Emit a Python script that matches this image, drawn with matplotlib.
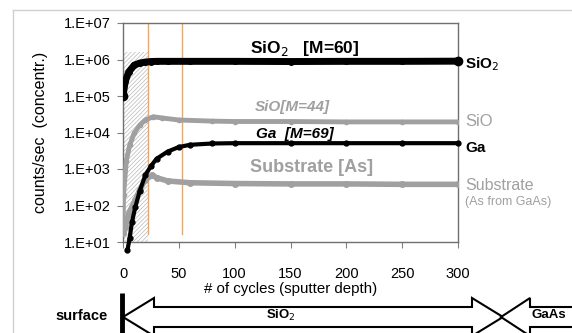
import matplotlib
matplotlib.use("Agg")
import matplotlib.pyplot as plt
from matplotlib.patches import Polygon

plt.rcParams['font.family'] = ['Liberation Sans', 'DejaVu Sans']
plt.rcParams['hatch.linewidth'] = 0.5

# ---- data ----
sio2_x = [0, 2, 5, 10, 15, 20, 25, 30, 40, 60, 100, 150, 200, 250, 300]
sio2_y = [1.0e5, 2.5e5, 4.5e5, 7.0e5, 8.0e5, 8.5e5, 8.8e5, 8.9e5, 8.9e5, 8.9e5, 8.9e5, 8.8e5, 8.9e5, 8.9e5, 9.0e5]

sio_x = [0, 0.5, 3, 6, 10, 15, 20, 27, 35, 50, 80, 100, 150, 200, 250, 300]
sio_y = [20, 200, 1700, 4500, 9500, 16000, 22000, 27000, 25000, 22000, 20500, 20000, 20000, 19500, 19500, 19500]

ga_x = [4, 6, 8, 11, 15, 20, 25, 30, 40, 50, 60, 80, 100, 150, 200, 250, 300]
ga_y = [6, 13, 35, 90, 250, 680, 1200, 1900, 3000, 4000, 4600, 5000, 5100, 5100, 5100, 5100, 5100]

sub_x = [0, 2, 5, 11, 15, 20, 26, 30, 40, 60, 100, 150, 200, 250, 300]
sub_y = [18, 25, 60, 140, 270, 500, 680, 580, 470, 420, 400, 390, 390, 380, 380]

yticks = [1e1, 1e2, 1e3, 1e4, 1e5, 1e6, 1e7]
ytick_labels = ["1.E+01", "1.E+02", "1.E+03", "1.E+04", "1.E+05", "1.E+06", "1.E+07"]
xticks = [0, 50, 100, 150, 200, 250, 300]
vlines_x = [22, 53]

W, H = 572, 333
fig = plt.figure(figsize=(W / 100, H / 100), dpi=100)

# overlay in pixel coords
ov = fig.add_axes([0, 0, 1, 1], zorder=0)
ov.set_xlim(0, W)
ov.set_ylim(H, 0)
ov.axis('off')

ax = fig.add_axes([123 / W, 1 - 242 / H, (458 - 123) / W, (242 - 23) / H], zorder=1)
ax.set_yscale('log')
ax.set_xlim(0, 300)
ax.set_ylim(1e1, 1e7)

BLACK = '#000000'
GRAY = '#a0a0a0'

# hatched altered layer
ax.fill_between([0, vlines_x[0]], 1e1, 1.6e6, facecolor='none', edgecolor='#b8b8b8',
                hatch='////////', linewidth=0, zorder=1)

for vx in vlines_x:
    ax.axvline(vx, ymin=0.035, ymax=1, color='#f5a555', lw=1.0, zorder=2)

ax.plot(sub_x, sub_y, color=GRAY, lw=4, marker='o', ms=4, zorder=3)
ax.plot(sio_x, sio_y, color=GRAY, lw=3.5, marker='o', ms=3, zorder=3)
ax.plot(ga_x, ga_y, color=BLACK, lw=3, marker='o', ms=3.5, zorder=4, clip_on=False)
ax.plot(sio2_x, sio2_y, color=BLACK, lw=5, marker='o', ms=4, zorder=5)
ax.plot([sio2_x[0]], [sio2_y[0]], 'o', color=BLACK, ms=6, zorder=5)
ax.plot([sio2_x[-1]], [sio2_y[-1]], 'o', color=BLACK, ms=6, zorder=5, clip_on=False)

ax.set_yticks(yticks)
ax.set_yticklabels(ytick_labels)
ax.minorticks_off()
ax.set_xticks(xticks)
ax.tick_params(axis='both', labelsize=10.5, color='#808080', length=4, direction='out')
ax.tick_params(axis='y', pad=5)
ax.tick_params(axis='x', pad=14)
for s in ax.spines.values():
    s.set_color('#707070')
    s.set_linewidth(1.0)

ax.set_xlabel('# of cycles (sputter depth)', fontsize=10.8, labelpad=1)
ax.set_ylabel('counts/sec  (concentr.)', fontsize=11.5)
ax.yaxis.set_label_coords((48 - 123) / 335, 0.5)

ov.text(127, 33, 'Altered', fontsize=8.5, fontweight='bold', color='#333333', va='center', ha='left', zorder=5)
ov.text(131, 46, 'layer', fontsize=8.5, fontweight='bold', color='#333333', va='center', ha='left', zorder=5)

fig.text(250 / W, 1 - 48 / H, 'SiO$_2$   [M=60]', fontsize=12.5, fontweight='bold', color=BLACK,
         va='center', ha='left', zorder=6)
fig.text(255 / W, 1 - 107 / H, 'SiO[M=44]', fontsize=11, fontweight='bold', fontstyle='italic',
         color=GRAY, va='center', ha='left', zorder=6)
fig.text(256 / W, 1 - 134 / H, 'Ga  [M=69]', fontsize=11, fontweight='bold', fontstyle='italic',
         color=BLACK, va='center', ha='left', zorder=6)
fig.text(250 / W, 1 - 168 / H, 'Substrate [As]', fontsize=13, fontweight='bold',
         color=GRAY, va='center', ha='left', zorder=6)

# right-side labels
fig.text(465 / W, 1 - 64 / H, 'SiO$_2$', fontsize=11, fontweight='bold', color=BLACK, va='center', ha='left')
fig.text(465 / W, 1 - 121 / H, 'SiO', fontsize=12, color=GRAY, va='center', ha='left')
fig.text(465 / W, 1 - 148 / H, 'Ga', fontsize=11, fontweight='bold', color=BLACK, va='center', ha='left')
fig.text(465 / W, 1 - 185 / H, 'Substrate', fontsize=11.5, color=GRAY, va='center', ha='left')
fig.text(465 / W, 1 - 202 / H, '(As from GaAs)', fontsize=9, color=GRAY, va='center', ha='left')

# outer frame
ov.plot([13, W], [10, 10], color='#d0d0d0', lw=1)
ov.plot([13, 13], [10, H], color='#d0d0d0', lw=1)

# bottom schematic
ov.text(108, 316, 'surface', fontsize=10.5, fontweight='bold', ha='right', va='center')
ov.plot([122, 122], [293, H], color=BLACK, lw=3.5, solid_capstyle='butt')

cy = 317
hl, hw, sw = 31, 19, 10
x0, x1 = 123, 503
arrow1 = [(x0, cy), (x0 + hl, cy - hw), (x0 + hl, cy - sw), (x1 - hl, cy - sw), (x1 - hl, cy - hw),
          (x1, cy), (x1 - hl, cy + hw), (x1 - hl, cy + sw), (x0 + hl, cy + sw), (x0 + hl, cy + hw)]
ov.add_patch(Polygon(arrow1, closed=True, facecolor='white', edgecolor=BLACK, lw=1.5, zorder=3))
x2, x3 = 501, 590
arrow2 = [(x2, cy), (x2 + 29, cy - hw), (x2 + 29, cy - sw), (x3, cy - sw), (x3, cy + sw),
          (x2 + 29, cy + sw), (x2 + 29, cy + hw)]
ov.add_patch(Polygon(arrow2, closed=True, facecolor='white', edgecolor=BLACK, lw=1.5, zorder=4))
ov.text(281, 315, 'SiO$_2$', fontsize=9.5, fontweight='bold', ha='center', va='center', zorder=5)
ov.text(532, 315, 'GaAs', fontsize=9.5, fontweight='bold', ha='left', va='center', zorder=5)

fig.savefig('out.png', dpi=100, facecolor='white')
